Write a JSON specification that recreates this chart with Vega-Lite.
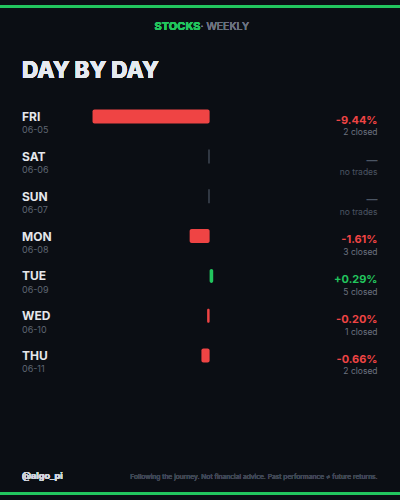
{
  "$schema": "https://vega.github.io/schema/vega-lite/v6.json",
  "autosize": {"type": "fit", "contains": "padding"},
  "width": 400,
  "height": 500,
  "padding": 0,
  "background": "#0b0e14",
  "config": {"view": {"stroke": null}, "font": "Inter"},
  "data": {"values": [
    {"idx": 0, "day": "FRI", "date": "06-05", "pct": -9.44, "pctLabel": "-9.44%", "sub": "2 closed", "traded": true},
    {"idx": 1, "day": "SAT", "date": "06-06", "pct": null, "pctLabel": "—", "sub": "no trades", "traded": false},
    {"idx": 2, "day": "SUN", "date": "06-07", "pct": null, "pctLabel": "—", "sub": "no trades", "traded": false},
    {"idx": 3, "day": "MON", "date": "06-08", "pct": -1.61, "pctLabel": "-1.61%", "sub": "3 closed", "traded": true},
    {"idx": 4, "day": "TUE", "date": "06-09", "pct": 0.29, "pctLabel": "+0.29%", "sub": "5 closed", "traded": true},
    {"idx": 5, "day": "WED", "date": "06-10", "pct": -0.2, "pctLabel": "-0.20%", "sub": "1 closed", "traded": true},
    {"idx": 6, "day": "THU", "date": "06-11", "pct": -0.66, "pctLabel": "-0.66%", "sub": "2 closed", "traded": true}
  ]},
  "encoding": {
    "y": {"field": "idx", "type": "quantitative", "scale": {"domain": [-2.8, 9.5], "reverse": true, "nice": false, "zero": false}, "axis": null}
  },
  "layer": [
    {
      "mark": {"type": "rect", "color": "#22c55e"},
      "encoding": {
        "x": {"datum": -16.9, "type": "quantitative", "scale": {"domain": [-16.9, 15.35], "nice": false, "zero": false}, "axis": null},
        "x2": {"datum": 15.35},
        "y": {"datum": -2.8, "type": "quantitative"},
        "y2": {"datum": -2.725}
      }
    },
    {
      "mark": {"type": "rect", "color": "#22c55e"},
      "encoding": {
        "x": {"datum": -16.9, "type": "quantitative"},
        "x2": {"datum": 15.35},
        "y": {"datum": 9.426, "type": "quantitative"},
        "y2": {"datum": 9.5}
      }
    },
    {
      "mark": {"type": "text", "align": "right", "baseline": "alphabetic", "fontSize": 11, "fontWeight": 700, "color": "#22c55e", "letterSpacing": 0.3},
      "encoding": {
        "x": {"datum": -0.74, "type": "quantitative"},
        "y": {"datum": -2.185, "type": "quantitative"},
        "text": {"value": "STOCKS"}
      }
    },
    {
      "mark": {"type": "text", "align": "left", "baseline": "alphabetic", "fontSize": 10.5, "fontWeight": 400, "color": "#6b7280"},
      "encoding": {
        "x": {"datum": -0.74, "type": "quantitative"},
        "y": {"datum": -2.185, "type": "quantitative"},
        "text": {"value": "· WEEKLY"}
      }
    },
    {
      "mark": {"type": "text", "align": "left", "baseline": "alphabetic", "fontSize": 22.5, "fontWeight": 800, "color": "#e5e9f0"},
      "encoding": {
        "x": {"datum": -15.13, "type": "quantitative"},
        "y": {"datum": -0.98, "type": "quantitative"},
        "text": {"value": "DAY BY DAY"}
      }
    },
    {
      "transform": [{"filter": "datum.traded"}],
      "mark": {"type": "bar", "size": 14, "cornerRadius": 2},
      "encoding": {
        "x": {"field": "pct", "type": "quantitative"},
        "x2": {"datum": 0},
        "color": {"condition": {"test": "datum.pct > 0", "value": "#22c55e"}, "value": "#ef4444"}
      }
    },
    {
      "transform": [{"filter": "!datum.traded"}],
      "mark": {"type": "tick", "orient": "vertical", "color": "#4b5563", "thickness": 1.2, "size": 14, "opacity": 1},
      "encoding": {
        "x": {"datum": -0.05, "type": "quantitative"},
        "y": {"field": "idx", "type": "quantitative"}
      }
    },
    {
      "mark": {"type": "text", "align": "left", "baseline": "alphabetic", "fontSize": 12, "fontWeight": 700, "color": "#e5e7eb", "dy": 4.5},
      "encoding": {
        "x": {"datum": -15.13, "type": "quantitative"},
        "text": {"field": "day"}
      }
    },
    {
      "mark": {"type": "text", "align": "left", "baseline": "alphabetic", "fontSize": 9, "fontWeight": 400, "color": "#5f6673", "dy": 16.9},
      "encoding": {
        "x": {"datum": -15.13, "type": "quantitative"},
        "text": {"field": "date"}
      }
    },
    {
      "mark": {"type": "text", "align": "right", "baseline": "alphabetic", "fontSize": 11, "fontWeight": 700, "dy": 7.2},
      "encoding": {
        "x": {"datum": 13.54, "type": "quantitative"},
        "text": {"field": "pctLabel"},
        "color": {"condition": [
          {"test": "!datum.traded", "value": "#4b5563"},
          {"test": "datum.pct > 0", "value": "#22c55e"}
        ], "value": "#ef4444"}
      }
    },
    {
      "mark": {"type": "text", "align": "right", "baseline": "alphabetic", "fontSize": 8.5, "fontWeight": 400, "dy": 18.8},
      "encoding": {
        "x": {"datum": 13.54, "type": "quantitative"},
        "text": {"field": "sub"},
        "color": {"condition": {"test": "!datum.traded", "value": "#4b5563"}, "value": "#6b7280"}
      }
    },
    {
      "mark": {"type": "text", "align": "left", "baseline": "alphabetic", "fontSize": 9, "fontWeight": 700, "color": "#d1d5db"},
      "encoding": {
        "x": {"datum": -15.13, "type": "quantitative"},
        "y": {"datum": 9.09, "type": "quantitative"},
        "text": {"value": "@algo_pi"}
      }
    },
    {
      "mark": {"type": "text", "align": "right", "baseline": "alphabetic", "fontSize": 6.7, "fontWeight": 400, "color": "#3f4654"},
      "encoding": {
        "x": {"datum": 13.54, "type": "quantitative"},
        "y": {"datum": 9.09, "type": "quantitative"},
        "text": {"value": "Following the journey. Not financial advice. Past performance ≠ future returns."}
      }
    }
  ]
}
